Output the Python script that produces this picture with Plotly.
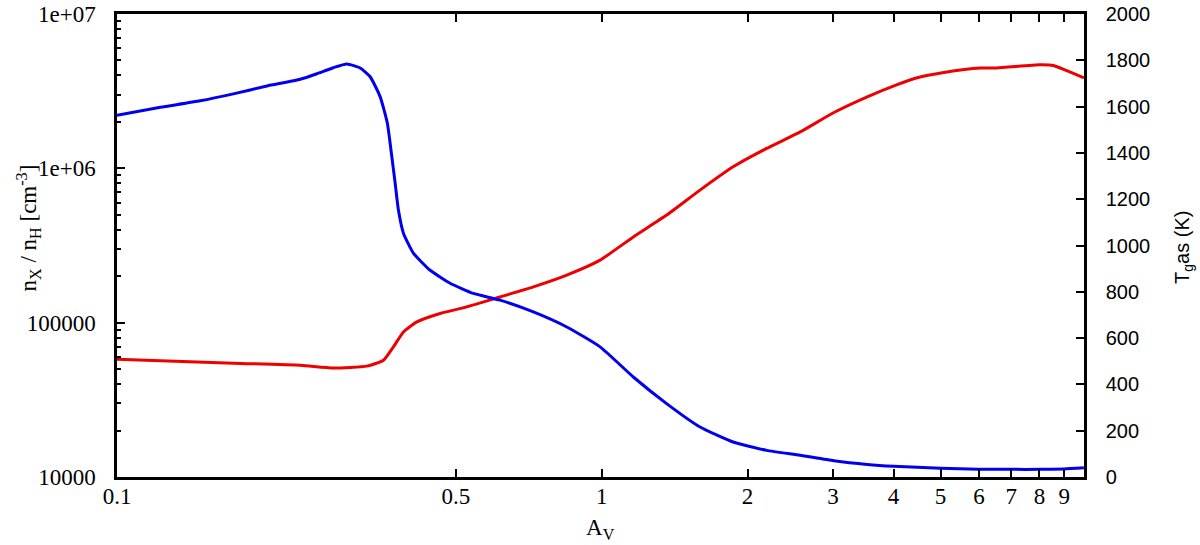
import plotly.graph_objects as go

# visual extinction A_V (log axis)
av_blue = [0.1, 0.1229, 0.1485, 0.1738, 0.2039, 0.2388, 0.2585, 0.2793, 0.2979, 0.3175,
           0.3329, 0.349, 0.3612, 0.369, 0.3748, 0.3807, 0.3899, 0.4088, 0.4426, 0.4867,
           0.5435, 0.6169, 0.7228, 0.847, 0.9923, 1.162, 1.361, 1.595, 1.867, 2.189,
           2.565, 3.013, 3.53, 4.0, 5.0, 6.0, 7.0, 8.0, 9.0, 9.88]
# gas temperature (K), right axis
t_gas = [1563, 1597, 1625, 1655, 1689, 1718, 1742, 1768, 1784, 1767,
         1729, 1643, 1528, 1383, 1270, 1153, 1053, 967, 893, 837,
         793, 764, 713, 648, 562, 432, 317, 216, 151, 115,
         94, 70, 54, 46, 38, 34, 33, 33, 35, 40]

av_red = [0.1, 0.1739, 0.2388, 0.2793, 0.3277, 0.3547, 0.3717, 0.3899, 0.4155, 0.4641,
          0.5266, 0.6169, 0.7228, 0.847, 0.9923, 1.162, 1.361, 1.595, 1.867, 2.189,
          2.574, 3.013, 3.53, 4.07, 4.475, 5.078, 6.04, 6.53, 8.02, 8.55, 9.11, 9.88]
# abundance n_X / n_H, left axis
n_x = [57970, 54580, 52960, 50920, 52270, 57150, 69640, 87100, 101100, 114700,
       126500, 146800, 170600, 203300, 254200, 359600, 497700, 722700, 1.023e6, 1.346e6,
       1.729e6, 2.299e6, 2.906e6, 3.487e6, 3.864e6, 4.178e6, 4.467e6, 4.467e6, 4.69e6, 4.64e6,
       4.29e6, 3.86e6]

x_ticks = [0.1, 0.5, 1, 2, 3, 4, 5, 6, 7, 8, 9]
y_ticks = [1e4, 1e5, 1e6, 1e7]
y_ticktext = ["10000", "100000", "1e+06", "1e+07"]
y_minor = [m * 10 ** e for e in range(4, 7) for m in range(2, 10)]

SERIF = "Liberation Serif"
SANS = "Liberation Sans"

fig = go.Figure()
fig.add_trace(go.Scatter(x=av_red, y=n_x, mode="lines", yaxis="y",
                         line=dict(color="#ee0000", width=3, shape="spline", smoothing=0.5),
                         showlegend=False))
fig.add_trace(go.Scatter(x=av_blue, y=t_gas, mode="lines", yaxis="y2",
                         line=dict(color="#0000ee", width=3, shape="spline", smoothing=0.5),
                         showlegend=False))

axis_line = dict(showline=True, linecolor="black", linewidth=2.5, showgrid=False,
                 zeroline=False, automargin=False, ticklabeloverflow="allow")

fig.update_layout(
    width=1200,
    height=545,
    margin=dict(l=117, r=116, t=14, b=68),
    paper_bgcolor="white",
    plot_bgcolor="white",
    xaxis=dict(
        **axis_line,
        type="log",
        range=[-1, 0.995],
        tickvals=x_ticks,
        ticktext=[str(v) for v in x_ticks],
        ticks="inside",
        ticklen=8,
        tickwidth=1.5,
        tickcolor="black",
        mirror="ticks",
        ticklabelstandoff=-3,
        tickfont=dict(family=SERIF, size=23, color="black"),
    ),
    yaxis=dict(
        **axis_line,
        type="log",
        range=[4, 7],
        tickvals=y_ticks,
        ticktext=y_ticktext,
        ticks="inside",
        ticklen=8,
        tickwidth=1.5,
        tickcolor="black",
        ticklabelstandoff=14,
        minor=dict(tickvals=y_minor, ticks="inside", ticklen=4, tickwidth=1.5, tickcolor="black"),
        tickfont=dict(family=SERIF, size=23, color="black"),
    ),
    yaxis2=dict(
        **axis_line,
        overlaying="y",
        side="right",
        range=[0, 2000],
        dtick=200,
        ticks="inside",
        ticklen=8,
        tickwidth=1.5,
        tickcolor="black",
        ticklabelstandoff=15,
        tickfont=dict(family=SANS, size=20, color="black"),
    ),
    annotations=[
        dict(text="A<sub>V</sub>", xref="paper", yref="paper", x=0.5, y=-0.113,
             xanchor="center", yanchor="middle", showarrow=False,
             font=dict(family=SERIF, size=23, color="black")),
        dict(text="n<sub>X</sub> / n<sub>H</sub> [cm<sup>-3</sup>]", xref="paper", yref="paper",
             x=-0.092, y=0.537, xanchor="center", yanchor="middle", textangle=-90, showarrow=False,
             font=dict(family=SERIF, size=23, color="black")),
        dict(text="T<sub>g</sub>as (K)", xref="paper", yref="paper",
             x=1.103, y=0.496, xanchor="center", yanchor="middle", textangle=-90, showarrow=False,
             font=dict(family=SANS, size=20, color="black")),
    ],
)

# drop the browser's default body margin so the figure fills the window exactly
fig.write_html("out.html", config={"displayModeBar": False},
               post_script="document.body.style.margin = '0';")
